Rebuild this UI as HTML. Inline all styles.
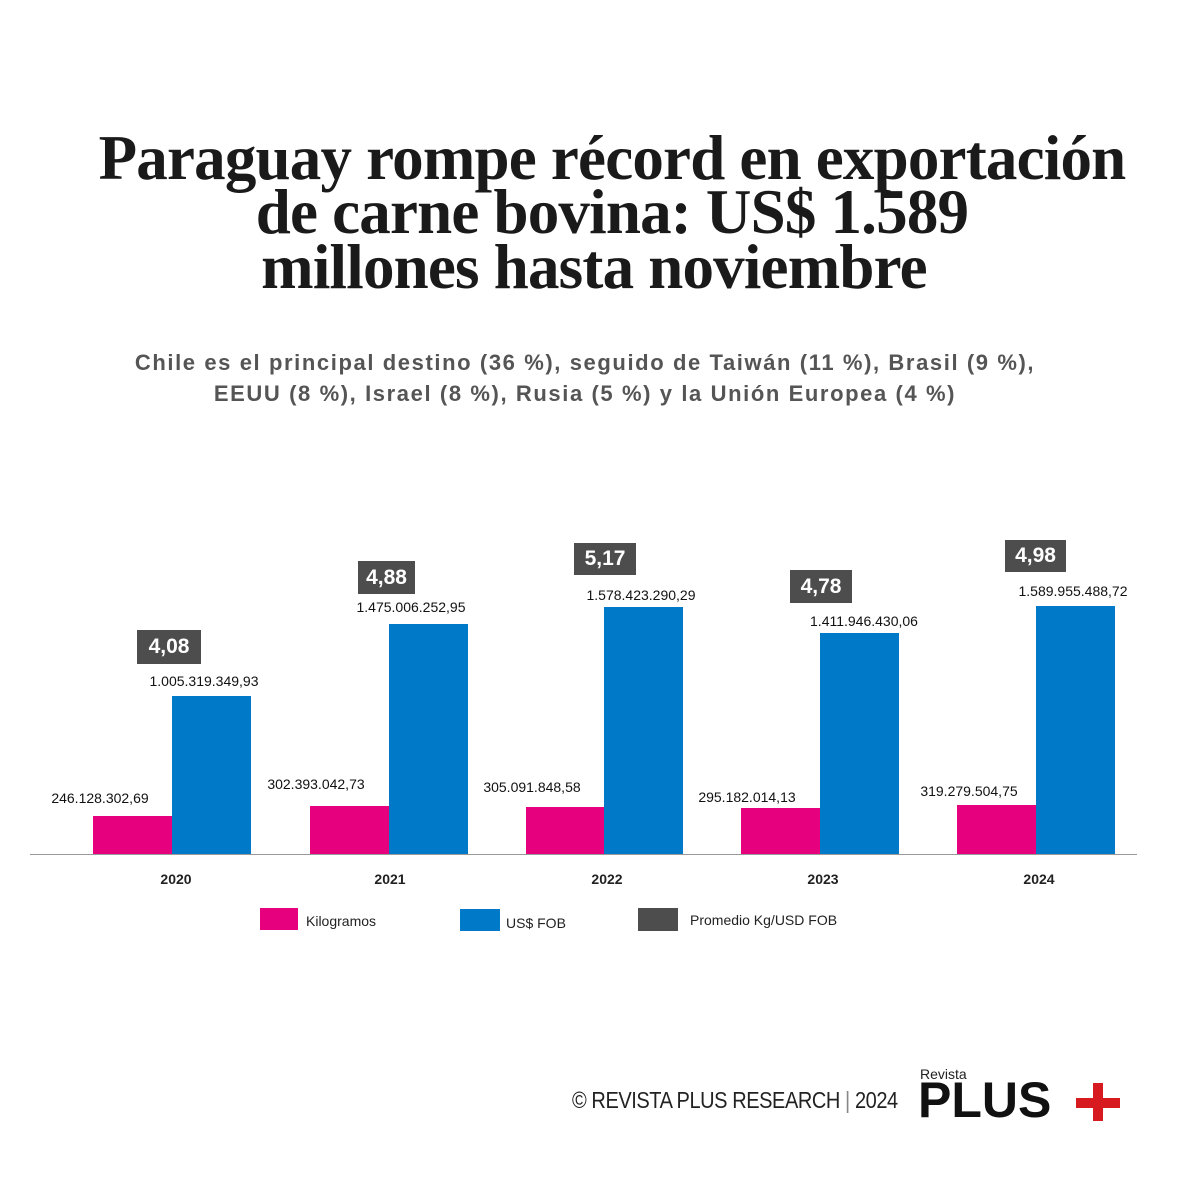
<!DOCTYPE html>
<html><head><meta charset="utf-8"><style>
body{margin:0;width:1200px;height:1200px;background:#fff;position:relative;overflow:hidden;font-family:"Liberation Sans",sans-serif}
.a{position:absolute}
.t{position:absolute;left:0;width:1224px;text-align:center;font-family:"Liberation Serif",serif;font-weight:bold;font-size:63px;color:#1a1a1a;letter-spacing:-0.8px;line-height:1}
.s{position:absolute;left:0;width:1170px;text-align:center;font-weight:bold;font-size:22px;letter-spacing:1.6px;color:#555}
.p{position:absolute;background:#e6007e}
.b{position:absolute;background:#0079c9}
.g{position:absolute;background:#4d4d4d;color:#fff;font-weight:bold;font-size:21px;text-align:center}
.v{position:absolute;font-size:14px;color:#111;width:200px;text-align:center}
.y{position:absolute;font-size:14px;font-weight:bold;color:#222;width:80px;text-align:center;top:871px}
.l{position:absolute;font-size:14px;color:#222}
</style></head><body>
<div class="t" style="top:127px">Paraguay rompe récord en exportación</div>
<div class="t" style="top:181px">de carne bovina: US$ 1.589</div>
<div class="t" style="top:236px;width:1188px">millones hasta noviembre</div>
<div class="s" style="top:350px">Chile es el principal destino (36 %), seguido de Taiwán (11 %), Brasil (9 %),</div>
<div class="s" style="top:381px">EEUU (8 %), Israel (8 %), Rusia (5 %) y la Unión Europea (4 %)</div>

<div class="a" style="left:30px;top:854px;width:1107px;height:1px;background:#999"></div>

<div class="p" style="left:93px;top:816px;width:79px;height:38px"></div>
<div class="b" style="left:172px;top:696px;width:79px;height:158px"></div>
<div class="p" style="left:310px;top:806px;width:79px;height:48px"></div>
<div class="b" style="left:389px;top:624px;width:79px;height:230px"></div>
<div class="p" style="left:526px;top:807px;width:78px;height:47px"></div>
<div class="b" style="left:604px;top:607px;width:79px;height:247px"></div>
<div class="p" style="left:741px;top:808px;width:79px;height:46px"></div>
<div class="b" style="left:820px;top:633px;width:79px;height:221px"></div>
<div class="p" style="left:957px;top:805px;width:79px;height:49px"></div>
<div class="b" style="left:1036px;top:606px;width:79px;height:248px"></div>

<div class="g" style="left:137px;top:630px;width:64px;height:34px;line-height:34px">4,08</div>
<div class="g" style="left:358px;top:561px;width:57px;height:33px;line-height:33px">4,88</div>
<div class="g" style="left:574px;top:543px;width:62px;height:32px;line-height:32px">5,17</div>
<div class="g" style="left:790px;top:570px;width:62px;height:33px;line-height:33px">4,78</div>
<div class="g" style="left:1005px;top:540px;width:61px;height:32px;line-height:32px">4,98</div>

<div class="v" style="left:104px;top:673px">1.005.319.349,93</div>
<div class="v" style="left:311px;top:599px">1.475.006.252,95</div>
<div class="v" style="left:541px;top:587px">1.578.423.290,29</div>
<div class="v" style="left:764px;top:613px">1.411.946.430,06</div>
<div class="v" style="left:973px;top:583px">1.589.955.488,72</div>
<div class="v" style="left:0px;top:790px">246.128.302,69</div>
<div class="v" style="left:216px;top:776px">302.393.042,73</div>
<div class="v" style="left:432px;top:779px">305.091.848,58</div>
<div class="v" style="left:647px;top:789px">295.182.014,13</div>
<div class="v" style="left:869px;top:783px">319.279.504,75</div>

<div class="y" style="left:136px">2020</div>
<div class="y" style="left:350px">2021</div>
<div class="y" style="left:567px">2022</div>
<div class="y" style="left:783px">2023</div>
<div class="y" style="left:999px">2024</div>

<div class="p" style="left:260px;top:908px;width:38px;height:22px"></div>
<div class="l" style="left:306px;top:913px">Kilogramos</div>
<div class="b" style="left:460px;top:909px;width:40px;height:22px"></div>
<div class="l" style="left:506px;top:915px">US$ FOB</div>
<div class="a" style="left:638px;top:908px;width:40px;height:23px;background:#4d4d4d"></div>
<div class="l" style="left:690px;top:912px">Promedio Kg/USD FOB</div>

<div class="a" style="left:572px;top:1087px;font-size:23px;color:#222;letter-spacing:-0.5px;transform:scaleX(0.87);transform-origin:0 0;white-space:nowrap">© REVISTA PLUS RESEARCH <span style="color:#888">|</span> 2024</div>
<div class="a" style="left:920px;top:1066px;font-size:14px;color:#222">Revista</div>
<div class="a" style="left:918px;top:1072px;font-size:50px;font-weight:900;color:#111;letter-spacing:0px;line-height:56px">PLUS</div>
<div class="a" style="left:1076px;top:1098px;width:44px;height:10px;background:#d71920"></div>
<div class="a" style="left:1093px;top:1083px;width:10px;height:38px;background:#d71920"></div>
</body></html>
